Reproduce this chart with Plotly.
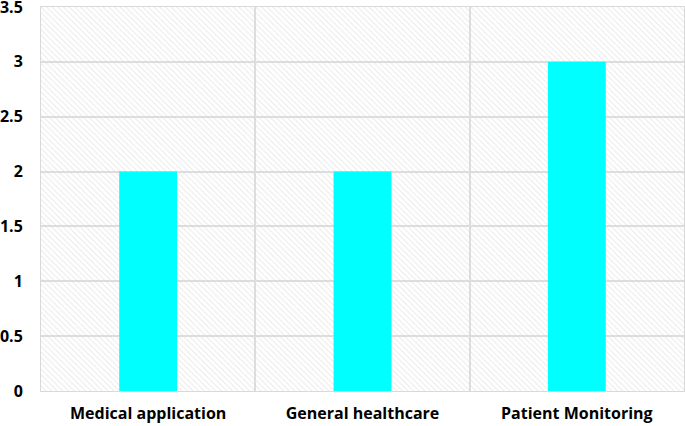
import plotly.graph_objects as go

categories = ["Medical application", "General healthcare", "Patient Monitoring"]
values = [2, 2, 3]
y_ticks = [0, 0.5, 1, 1.5, 2, 2.5, 3, 3.5]
y_labels = ["0", "0.5", "1", "1.5", "2", "2.5", "3", "3.5"]
y_max = 3.5

idx = list(range(len(categories)))

fig = go.Figure()
# hatched background
fig.add_trace(go.Bar(
    x=idx, y=[y_max] * len(idx), width=1,
    marker=dict(color="rgba(0,0,0,0)", line=dict(width=0),
                pattern=dict(shape="\\", fgcolor="#d3d3d3", size=4, solidity=0.25,
                             fillmode="overlay")),
    hoverinfo="skip", showlegend=False,
))
fig.add_trace(go.Bar(
    x=idx, y=values, width=0.27,
    marker=dict(color="#00FFFF", line=dict(width=0)),
    showlegend=False,
))

fig.update_layout(
    width=685, height=426,
    margin=dict(l=41, r=1, t=7, b=35, autoexpand=False),
    barmode="overlay",
    plot_bgcolor="white", paper_bgcolor="white",
    font=dict(family="Open Sans", size=16, color="black"),
)
fig.update_xaxes(
    range=[-0.5, len(idx) - 0.5],
    tickmode="array", tickvals=idx,
    ticktext=["<b>%s</b>" % c for c in categories],
    showgrid=False, zeroline=False, automargin=False,
    ticklabeloverflow="allow",
    showline=True, linecolor="#d9d9d9", linewidth=1, mirror=True,
    ticks="outside", ticklen=8, tickcolor="rgba(0,0,0,0)",
    minor=dict(tickmode="array", tickvals=[i + 0.5 for i in idx[:-1]],
               showgrid=True, gridcolor="#dedede", gridwidth=1.5, ticks=""),
)
fig.update_yaxes(
    range=[0, y_max],
    tickmode="array", tickvals=y_ticks,
    ticktext=["<b>%s</b>" % t for t in y_labels],
    showgrid=True, gridcolor="#dedede", gridwidth=1.5,
    zeroline=False, automargin=False,
    ticklabeloverflow="allow",
    showline=True, linecolor="#d9d9d9", linewidth=1, mirror=True,
    ticks="outside", ticklen=14, tickcolor="rgba(0,0,0,0)",
)

fig.write_html("out.html", config={"displayModeBar": False},
               post_script="document.body.style.margin='0';")
